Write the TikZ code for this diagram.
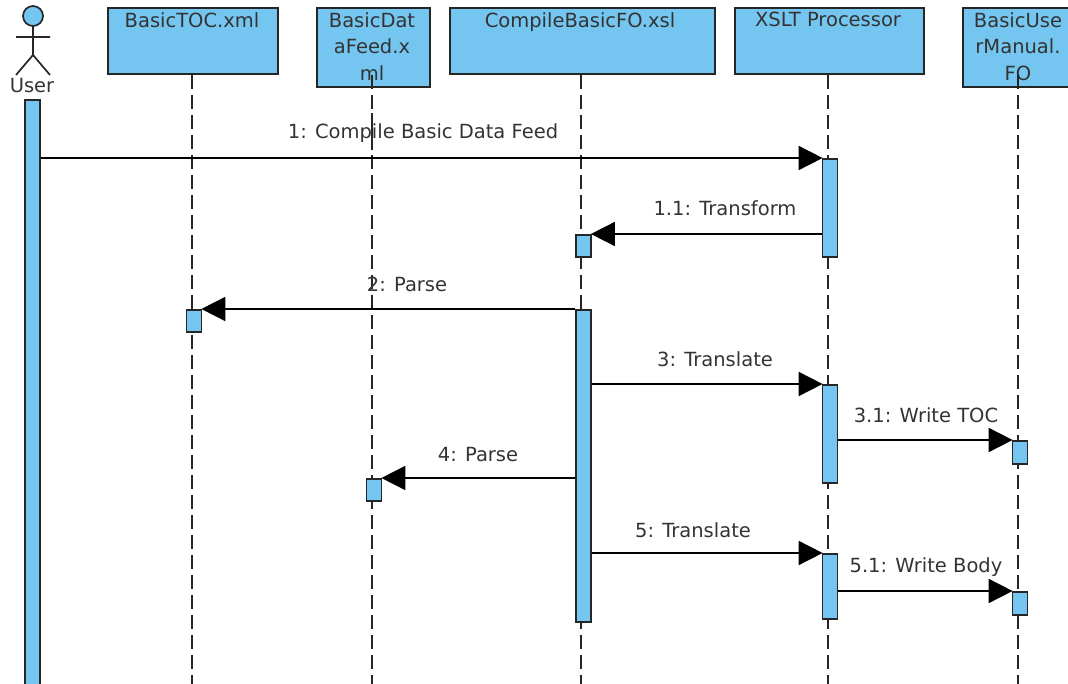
\documentclass[tikz,border=0pt]{standalone}
\usepackage{fontspec}
\setmainfont{DejaVu Sans}
\usetikzlibrary{arrows.meta}
\definecolor{barblue}{HTML}{74C6F0}
\definecolor{labelgray}{HTML}{333333}
\tikzset{
    head/.style={draw=black!85, fill=barblue, line width=1.7pt, anchor=north, minimum width=#1, inner sep=0pt},
    headtext/.style={anchor=north, align=center, text=labelgray, font=\fontsize{19.5}{26.5}\selectfont, inner sep=0pt},
    bar/.style={draw=black!85, fill=barblue, line width=1.7pt, anchor=north, minimum width=15pt, inner sep=0pt},
    lifeline/.style={black!85, line width=1.7pt, dash pattern=on 14pt off 6pt},
    msg/.style={black, line width=1.7pt, -{Triangle[length=24pt, width=24pt]}, shorten >=-1pt},
    msgtext/.style={text=labelgray, font=\fontsize{19.5}{23}\selectfont, inner sep=0pt}
}
\begin{document}
\begin{tikzpicture}[x=1pt, y=-1pt]
    \useasboundingbox (0,0) rectangle (1068,684);
    \clip (0,0) rectangle (1068,684);

    % heads
    \node[head=170pt, minimum height=66pt] (toc) at (193,7) {};
    \node[head=113pt, minimum height=79pt] (feed) at (373.5,7) {};
    \node[head=265pt, minimum height=66pt] (compile) at (582.5,7) {};
    \node[head=189pt, minimum height=66pt] (xslt) at (829.5,7) {};
    \node[head=112pt, minimum height=79pt] (manual) at (1019,7) {};

    \node[headtext] (toctext) at (192,12) {BasicTOC.xml};
    \node[headtext] (feedtext) at (372,12) {BasicDat\\aFeed.x\\ml};
    \node[headtext] (compiletext) at (580,12) {CompileBasicFO.xsl};
    \node[headtext] (xslttext) at (828,12) {XSLT Processor};
    \node[headtext] (manualtext) at (1018,12) {BasicUse\\rManual.\\FO};

    % lifelines
    \foreach \n/\x in {toc/192, feed/372, compile/581, xslt/828, manual/1018}{
        \coordinate (\n end) at (\x,690);
        \draw[lifeline] (\n end |- toc.south) -- (\n end);
    }
    \coordinate (crossa) at (372,113);
    \coordinate (crossb) at (372,150);
    \draw[black!85, line width=1.7pt] (crossa) -- (crossb);

    % actor
    \draw[draw=black!85, fill=barblue, line width=1.7pt] (33,16) circle (10pt);
    \draw[black!85, line width=1.7pt] (33,26) -- (33,55) (16,37) -- (50,37) (16,75) -- (33,55) -- (50,75);
    \node[msgtext] (usertext) at (32,86) {User};

    % activations
    \node[bar, minimum height=590pt] (baruser) at (32.5,99) {};
    \node[bar, minimum height=98pt] (barxslta) at (830,158) {};
    \node[bar, minimum height=22pt] (barcompilea) at (583.5,234) {};
    \node[bar, minimum height=22pt] (bartoc) at (194,309) {};
    \node[bar, minimum height=312pt] (barcompileb) at (583.5,309) {};
    \node[bar, minimum height=98pt] (barxsltb) at (830,384) {};
    \node[bar, minimum height=23pt] (barmanuala) at (1020,440) {};
    \node[bar, minimum height=22pt] (barfeed) at (374,478) {};
    \node[bar, minimum height=65pt] (barxsltc) at (830,553) {};
    \node[bar, minimum height=23pt] (barmanualb) at (1020,591) {};

    % messages
    \draw[msg] (baruser.east |- barxslta.north) -- (barxslta.north west);
    \draw[msg] (barxslta.west |- barcompilea.north east) -- (barcompilea.north east);
    \draw[msg] (barcompileb.north west) -- (bartoc.north east);
    \draw[msg] (barcompileb.east |- barxsltb.north) -- (barxsltb.north west);
    \draw[msg] (barxsltb.east |- barmanuala.north) -- (barmanuala.north west);
    \draw[msg] (barcompileb.west |- barfeed.north) -- (barfeed.north east);
    \draw[msg] (barcompileb.east |- barxsltc.north) -- (barxsltc.north west);
    \draw[msg] (barxsltc.east |- barmanualb.north) -- (barmanualb.north west);

    \node[msgtext] (msgone) at (423,133) {1: Compile Basic Data Feed};
    \node[msgtext] (msgonea) at (725,208) {1.1: Transform};
    \node[msgtext] (msgtwo) at (407,284) {2: Parse};
    \node[msgtext] (msgthree) at (715,359) {3: Translate};
    \node[msgtext] (msgthreea) at (926,415) {3.1: Write TOC};
    \node[msgtext] (msgfour) at (478,455) {4: Parse};
    \node[msgtext] (msgfive) at (693,530) {5: Translate};
    \node[msgtext] (msgfivea) at (926,567) {5.1: Write Body};
\end{tikzpicture}
\end{document}
